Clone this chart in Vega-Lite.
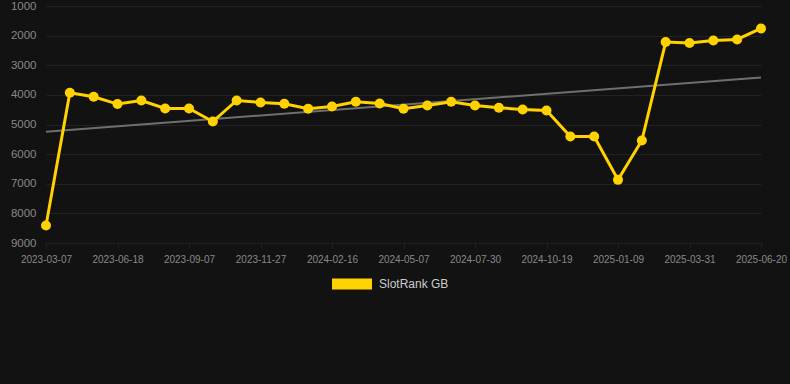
{
  "$schema": "https://vega.github.io/schema/vega-lite/v6.json",
  "width": 750,
  "height": 237,
  "autosize": {"type": "none"},
  "padding": {"left": 40, "top": 6, "right": 0, "bottom": 141},
  "background": "#121212",
  "config": {
    "view": {"stroke": null},
    "font": "Liberation Sans",
    "axis": {"gridColor": "#222222", "gridWidth": 1, "domain": false, "tickColor": "#222222", "labelColor": "#888888", "labelFont": "Liberation Sans"}
  },
  "datasets": {
    "rank": [
      {"date": "2023-03-07", "rank": 8412},
      {"date": "2023-04-10", "rank": 3929},
      {"date": "2023-05-14", "rank": 4064},
      {"date": "2023-06-18", "rank": 4311},
      {"date": "2023-07-15", "rank": 4189},
      {"date": "2023-08-11", "rank": 4459},
      {"date": "2023-09-07", "rank": 4459},
      {"date": "2023-10-04", "rank": 4899},
      {"date": "2023-10-31", "rank": 4189},
      {"date": "2023-11-27", "rank": 4257},
      {"date": "2023-12-24", "rank": 4301},
      {"date": "2024-01-20", "rank": 4470},
      {"date": "2024-02-16", "rank": 4392},
      {"date": "2024-03-14", "rank": 4233},
      {"date": "2024-04-10", "rank": 4290},
      {"date": "2024-05-07", "rank": 4470},
      {"date": "2024-06-04", "rank": 4358},
      {"date": "2024-07-02", "rank": 4233},
      {"date": "2024-07-30", "rank": 4358},
      {"date": "2024-08-26", "rank": 4436},
      {"date": "2024-09-22", "rank": 4493},
      {"date": "2024-10-19", "rank": 4527},
      {"date": "2024-11-15", "rank": 5405},
      {"date": "2024-12-12", "rank": 5405},
      {"date": "2025-01-09", "rank": 6868},
      {"date": "2025-02-05", "rank": 5541},
      {"date": "2025-03-04", "rank": 2216},
      {"date": "2025-03-31", "rank": 2250},
      {"date": "2025-04-27", "rank": 2162},
      {"date": "2025-05-24", "rank": 2128},
      {"date": "2025-06-20", "rank": 1757}
    ],
    "trend": [
      {"date": "2023-03-07", "rank": 5247},
      {"date": "2025-06-20", "rank": 3412}
    ]
  },
  "encoding": {
    "x": {
      "field": "date",
      "type": "ordinal",
      "sort": null,
      "scale": {
        "type": "point",
        "padding": 0,
        "range": [6, 721],
        "domain": ["2023-03-07", "2023-04-10", "2023-05-14", "2023-06-18", "2023-07-15", "2023-08-11", "2023-09-07", "2023-10-04", "2023-10-31", "2023-11-27", "2023-12-24", "2024-01-20", "2024-02-16", "2024-03-14", "2024-04-10", "2024-05-07", "2024-06-04", "2024-07-02", "2024-07-30", "2024-08-26", "2024-09-22", "2024-10-19", "2024-11-15", "2024-12-12", "2025-01-09", "2025-02-05", "2025-03-04", "2025-03-31", "2025-04-27", "2025-05-24", "2025-06-20"]
      },
      "axis": {
        "title": null,
        "labelAngle": 0,
        "labelFontSize": 10,
        "labelPadding": 6,
        "tickSize": 5,
        "values": ["2023-03-07", "2023-06-18", "2023-09-07", "2023-11-27", "2024-02-16", "2024-05-07", "2024-07-30", "2024-10-19", "2025-01-09", "2025-03-31", "2025-06-20"]
      }
    },
    "y": {
      "field": "rank",
      "type": "quantitative",
      "scale": {"domain": [1000, 9000], "reverse": true, "nice": false, "zero": false},
      "axis": {"title": null, "values": [1000, 2000, 3000, 4000, 5000, 6000, 7000, 8000, 9000], "format": "d", "labelFontSize": 11.5, "ticks": false, "labelPadding": 4}
    }
  },
  "layer": [
    {
      "data": {"name": "trend"},
      "mark": {"type": "line", "color": "#6f6f6f", "strokeWidth": 2},
      "encoding": {}
    },
    {
      "data": {"name": "rank"},
      "mark": {"type": "line", "color": "#FFD200", "strokeWidth": 3},
      "encoding": {}
    },
    {
      "data": {"name": "rank"},
      "mark": {"type": "point", "filled": true, "opacity": 1, "size": 100},
      "encoding": {
        "color": {
          "datum": "SlotRank GB",
          "scale": {"range": ["#FFD200"]},
          "legend": {
            "title": null,
            "orient": "none",
            "legendX": 292,
            "legendY": 258,
            "padding": 0,
            "symbolType": "M-1,-0.275H1V0.275H-1Z",
            "symbolSize": 1600,
            "symbolStrokeWidth": 0,
            "symbolFillColor": "#FFD200",
            "symbolOpacity": 1,
            "labelFontSize": 12,
            "labelColor": "#cccccc",
            "labelFont": "Liberation Sans",
            "labelOffset": 7
          }
        }
      }
    }
  ]
}
